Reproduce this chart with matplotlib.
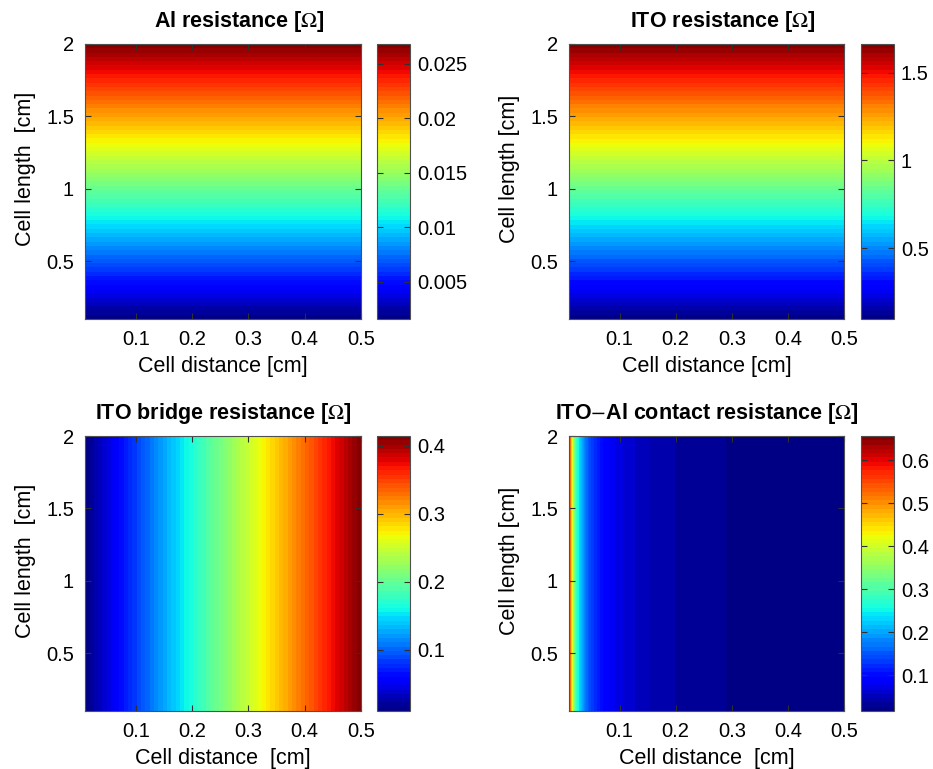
import numpy as np
import matplotlib
matplotlib.use("Agg")
import matplotlib.pyplot as plt
from matplotlib.ticker import FuncFormatter

plt.rcParams['font.family'] = ['Liberation Sans', 'DejaVu Sans']
plt.rcParams['mathtext.fontset'] = 'stix'

# ---------------- data ----------------
x_range = [0.01, 0.5]          # cell distance [cm]
y_range = [0.1, 2.0]           # cell length [cm]

# Al resistance vs cell length (constant along distance)
al_length = [0.1, 0.5, 1.0, 1.5, 2.0]
al_res = [0.00158, 0.00689, 0.01352, 0.02016, 0.0268]

# ITO resistance vs cell length (constant along distance)
ito_length = [0.1, 0.5, 1.0, 1.5, 2.0]
ito_res = [0.097, 0.427, 0.839, 1.251, 1.663]

# ITO bridge resistance vs cell distance (constant along length)
bridge_dist = [0.01, 0.1, 0.2, 0.3, 0.4, 0.5]
bridge_res = [0.0097, 0.0841, 0.1667, 0.2494, 0.332, 0.4147]

# ITO-Al contact resistance vs cell distance (constant along length)
contact_dist = [0.01, 0.011, 0.0125, 0.015, 0.0175, 0.02, 0.025, 0.03, 0.04,
                0.05, 0.07, 0.1, 0.15, 0.2, 0.3, 0.4, 0.5]
contact_res = [0.656, 0.597, 0.5255, 0.4385, 0.3763, 0.3297, 0.2644, 0.2209, 0.1665,
               0.1339, 0.0966, 0.0686, 0.0468, 0.0359, 0.0251, 0.0196, 0.0163]

x_ticks = [0.1, 0.2, 0.3, 0.4, 0.5]
y_ticks = [0.5, 1, 1.5, 2]
al_cticks = [0.005, 0.01, 0.015, 0.02, 0.025]
ito_cticks = [0.5, 1, 1.5]
bridge_cticks = [0.1, 0.2, 0.3, 0.4]
contact_cticks = [0.1, 0.2, 0.3, 0.4, 0.5, 0.6]

titles = [r'Al resistance [$\Omega$]', r'ITO resistance [$\Omega$]',
          r'ITO bridge resistance [$\Omega$]', r'ITO$-$Al contact resistance [$\Omega$]']
xlabels = ['Cell distance [cm]', 'Cell distance [cm]',
           'Cell distance  [cm]', 'Cell distance  [cm]']
ylabels = ['Cell length  [cm]', 'Cell length [cm]',
           'Cell length  [cm]', 'Cell length [cm]']

# ---------------- figure ----------------
W, H = 933, 769
fig = plt.figure(figsize=(W / 100, H / 100), dpi=100)

def frac(l, t, r, b):
    return [l / W, 1 - b / H, (r - l) / W, (b - t) / H]

ax_boxes = [frac(85, 44, 361, 319), frac(569, 44, 844, 319),
            frac(85, 436, 361, 711), frac(569, 436, 844, 711)]
cb_boxes = [frac(377, 44, 410, 319), frac(861, 44, 894, 319),
            frac(377, 436, 410, 711), frac(861, 436, 894, 711)]

# grids
Xa, Ya = np.meshgrid(x_range, al_length)
Za = np.tile(np.array(al_res)[:, None], (1, len(x_range)))
Xi, Yi = np.meshgrid(x_range, ito_length)
Zi = np.tile(np.array(ito_res)[:, None], (1, len(x_range)))
Xb, Yb = np.meshgrid(bridge_dist, y_range)
Zb = np.tile(np.array(bridge_res)[None, :], (len(y_range), 1))
Xc, Yc = np.meshgrid(contact_dist, y_range)
Zc = np.tile(np.array(contact_res)[None, :], (len(y_range), 1))

fields = [(Xa, Ya, Za, al_cticks), (Xi, Yi, Zi, ito_cticks),
          (Xb, Yb, Zb, bridge_cticks), (Xc, Yc, Zc, contact_cticks)]

edge = '#505050'
tick_fs = 14.5
label_fs = 15.5
title_fs = 15.5

gfmt = FuncFormatter(lambda v, p: ('%g' % v))

for i, (X, Y, Z, cticks) in enumerate(fields):
    ax = fig.add_axes(ax_boxes[i])
    zmin, zmax = float(Z.min()), float(Z.max())
    levels = np.linspace(zmin, zmax, 65)
    cs = ax.contourf(X, Y, Z, levels=levels, cmap='jet', vmin=zmin, vmax=zmax)
    ax.set_xlim(x_range)
    ax.set_ylim(y_range)
    ax.set_xticks(x_ticks)
    ax.set_yticks(y_ticks)
    ax.xaxis.set_major_formatter(gfmt)
    ax.yaxis.set_major_formatter(gfmt)
    ax.tick_params(direction='in', top=True, right=True, length=4, width=0.8,
                   color='#303030', labelsize=tick_fs, pad=8)
    for s in ax.spines.values():
        s.set_edgecolor(edge)
        s.set_linewidth(0.8)
    ax.set_xlabel(xlabels[i], fontsize=label_fs, labelpad=5)
    ax.set_ylabel(ylabels[i], fontsize=label_fs)
    ax.yaxis.set_label_coords(-0.178, 0.545)
    tx = 0.5 + 16 / 276 if i < 2 else 0.5
    ax.set_title(titles[i], fontsize=title_fs, fontweight='bold', pad=12, x=tx)

    cax = fig.add_axes(cb_boxes[i])
    cb = fig.colorbar(cs, cax=cax, ticks=cticks)
    cb.ax.yaxis.set_major_formatter(gfmt)
    cb.outline.set_edgecolor(edge)
    cb.outline.set_linewidth(0.8)
    cax.tick_params(direction='in', left=True, right=True, length=4, width=0.8,
                    color='#303030', labelsize=tick_fs, pad=5)
    cax.minorticks_off()

fig.savefig('out.png', dpi=100)
